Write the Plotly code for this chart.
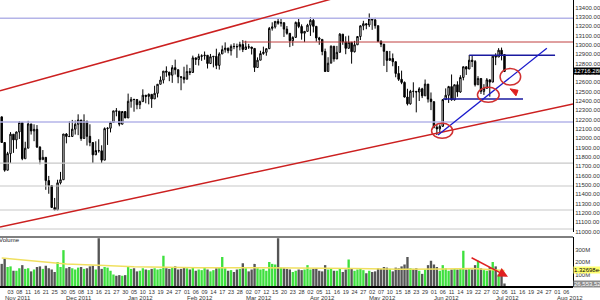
import plotly.graph_objects as go
import pandas as pd

# ---------------- data ----------------
holidays = ["2011-11-24", "2011-12-26", "2012-01-02", "2012-01-16", "2012-02-20",
            "2012-04-06", "2012-05-28", "2012-07-04"]
first_day = "2011-10-31"
last_axis_day = "2012-08-10"
month_labels = ["Nov 2011", "Dec 2011", "Jan 2012", "Feb 2012", "Mar 2012", "Apr 2012",
                "May 2012", "Jun 2012", "Jul 2012", "Aug 2012"]

opens = [12230,11955,11658,11836,12044,11983,12068,12170,11781,11894,
         12154,12079,12096,11906,11771,11796,11547,11494,11258,11232,
         11523,11556,12046,12020,12019,12098,12150,12196,11998,12184,
         12021,11955,11823,11869,11866,11766,12104,12108,12170,12294,
         12291,12151,12287,12218,12397,12418,12416,12360,12393,12462,
         12449,12471,12422,12482,12579,12624,12720,12709,12676,12757,
         12735,12660,12654,12633,12716,12705,12862,12845,12878,12884,
         12890,12801,12874,12878,12781,12904,12950,12966,12939,12985,
         12983,12981,13005,12952,12980,12978,12963,12759,12837,12908,
         12922,12960,13178,13194,13253,13233,13239,13170,13125,13046,
         13081,13242,13198,13126,13146,13212,13264,13200,13075,13060,
         12930,12716,12805,12987,12850,12921,13116,13033,12964,13029,
         12927,13002,13091,13205,13228,13214,13279,13269,13207,13038,
         13009,12932,12835,12855,12821,12695,12632,12599,12442,12369,
         12504,12503,12496,12530,12455,12581,12420,12393,12119,12101,
         12128,12415,12461,12554,12411,12574,12496,12652,12767,12742,
         12837,12824,12574,12641,12503,12535,12627,12602,12880,12871,
         12944,12897]
highs = [12230,11955,11855,12066,12044,12072,12184,12170,11963,12187,
         12154,12150,12142,11915,11874,11796,11597,11494,11361,11556,
         11640,12046,12056,12183,12197,12191,12257,12196,12257,12184,
         12150,11955,11968,11990,11925,12117,12118,12179,12294,12324,
         12291,12289,12287,12479,12443,12418,12418,12405,12525,12462,
         12481,12471,12563,12582,12663,12721,12771,12709,12784,12843,
         12735,12660,12767,12789,12753,12886,12862,12906,12900,12930,
         12890,12904,12879,12960,12922,12994,13028,12971,13006,13019,
         13014,13035,13053,13045,13012,12979,12963,12867,12938,12982,
         12964,13193,13243,13253,13289,13280,13239,13203,13125,13093,
         13251,13289,13221,13146,13227,13297,13284,13200,13087,13060,
         12961,12869,12995,12987,12990,13128,13116,13093,13100,13029,
         13044,13095,13211,13259,13228,13338,13279,13291,13207,13052,
         13009,12932,12936,12909,12821,12774,12725,12609,12531,12519,
         12600,12503,12548,12541,12630,12581,12491,12393,12156,12148,
         12418,12535,12562,12684,12575,12611,12676,12768,12767,12893,
         12883,12838,12666,12641,12580,12646,12627,12880,12911,12966,
         12972,12897]
lows = [11953,11642,11658,11735,11844,11887,11993,11765,11781,11894,
        12040,11969,11896,11722,11771,11448,11406,11257,11231,11232,
        11506,11556,11946,12013,12019,12040,12034,11973,11998,11923,
        11915,11736,11823,11846,11735,11766,11929,12063,12170,12236,
        12129,12151,12217,12218,12328,12285,12311,12313,12393,12375,
        12364,12326,12422,12438,12578,12588,12659,12612,12594,12683,
        12590,12515,12589,12633,12677,12705,12786,12780,12830,12842,
        12748,12801,12760,12741,12736,12904,12918,12911,12887,12955,
        12862,12942,12924,12952,12957,12898,12711,12759,12837,12895,
        12885,12960,13154,13176,13217,13197,13086,13110,12977,12991,
        13081,13180,13057,13031,13146,13097,13134,13036,13002,12890,
        12710,12716,12805,12821,12850,12921,13002,12901,12964,12800,
        12920,13002,13053,13158,13169,13192,13162,13175,13030,12977,
        12776,12710,12835,12772,12654,12615,12580,12437,12352,12361,
        12436,12278,12400,12431,12455,12383,12302,12107,12035,12061,
        12128,12415,12379,12404,12405,12445,12488,12621,12679,12742,
        12763,12555,12574,12475,12465,12535,12446,12602,12784,12871,
        12835,12710]
closes = [11955,11658,11836,12044,11983,12068,12170,11781,11894,12154,
          12079,12096,11906,11771,11796,11547,11494,11258,11232,11523,
          11556,12046,12020,12019,12098,12150,12196,11998,12184,12021,
          11955,11823,11869,11866,11766,12104,12108,12170,12294,12291,
          12151,12287,12218,12397,12418,12416,12360,12393,12462,12449,
          12471,12422,12482,12579,12624,12720,12709,12676,12757,12735,
          12660,12654,12633,12716,12705,12862,12845,12878,12884,12890,
          12801,12874,12878,12781,12904,12950,12966,12939,12985,12983,
          12981,13005,12952,12980,12978,12963,12759,12837,12908,12922,
          12960,13178,13194,13253,13233,13239,13170,13125,13046,13081,
          13242,13198,13126,13146,13212,13264,13200,13075,13060,12930,
          12716,12805,12987,12850,12921,13116,13033,12964,13029,12927,
          13002,13091,13205,13228,13214,13279,13269,13207,13038,13009,
          12932,12835,12855,12821,12695,12632,12599,12442,12369,12504,
          12503,12496,12530,12455,12581,12420,12393,12119,12101,12128,
          12415,12461,12554,12411,12574,12496,12652,12767,12742,12837,
          12824,12574,12641,12503,12535,12627,12602,12880,12871,12944,
          12897,12716.28]
volumes_m = [185,225,160,165,130,130,150,175,145,150,
             125,140,160,165,145,170,150,140,120,200,
             160,295,150,160,150,140,155,160,145,150,
             165,170,140,390,145,160,155,130,100,90,
             95,90,95,160,145,150,125,130,150,140,
             135,145,150,140,145,250,150,145,160,165,
             140,145,155,150,140,155,130,140,135,155,
             140,125,135,150,160,240,150,130,135,120,
             140,145,190,150,125,140,185,150,140,145,
             130,200,185,180,390,155,150,145,140,120,
             130,140,135,140,175,140,145,150,130,125,
             175,140,150,130,130,150,120,140,220,150,
             130,140,145,135,110,130,120,125,150,145,
             160,155,145,125,155,150,165,180,240,150,
             145,150,130,105,140,175,210,180,160,130,
             175,150,130,140,145,140,150,290,140,150,
             140,175,210,150,135,130,160,200,165,100,
             120,28]
ma_idx = [0, 10, 22, 35, 45, 67, 90, 100, 120, 136, 150, 160, 171]
ma_vals = [232, 210, 185, 172, 163, 155, 155, 152, 148, 142, 145, 148, 133]

last_price = 12716.28
last_ma = "1.32698e+08"
last_vol = "26,553,528"

# drawn study objects (x = trading-day index, y = price)
upper_channel = [(-0.58, 12510), (130, 13648)]
lower_channel = [(-0.58, 11050), (194.3, 12367)]
red_hline = (82, 13032)
lilac_hlines = [13286, 12175]
grey_hlines = [11735, 11489, 11232]
blue_trend = [(148.4, 12035), (185.4, 12965)]
blue_top = (159.0, 188.2, 12890)
blue_bottom = (150.1, 177.3, 12421)
circles = [(149.8, 12080, 3.6, 80), (165.5, 12466, 3.7, 80), (173.0, 12660, 3.5, 89)]
vol_arrow = [(159.3, 240), (172.2, 82)]

# ---------------- build ----------------
dates = pd.bdate_range(first_day, last_axis_day, freq="C", holidays=holidays)
n = len(closes)
idx = list(range(n))
X0, X1 = -0.58, 194.3

fig = go.Figure()
fig.add_trace(go.Candlestick(
    x=idx, open=opens, high=highs, low=lows, close=closes,
    increasing=dict(line=dict(color="black", width=1), fillcolor="white"),
    decreasing=dict(line=dict(color="black", width=1), fillcolor="black"),
    whiskerwidth=0, xaxis="x", yaxis="y", showlegend=False, hoverinfo="skip"))

vcolors = ["#3ee03e" if c >= o else "#555555" for o, c in zip(opens, closes)]
fig.add_trace(go.Bar(x=idx, y=volumes_m, marker=dict(color=vcolors, line=dict(width=0)),
                     xaxis="x2", yaxis="y2", showlegend=False, hoverinfo="skip"))
fig.add_trace(go.Scatter(x=ma_idx, y=ma_vals, mode="lines",
                         line=dict(color="#f0e060", width=1.5),
                         xaxis="x2", yaxis="y2", showlegend=False, hoverinfo="skip"))

H = 287.0
shapes = []
def seg(x0, y0, x1, y1, color, w=1, xref="x", yref="y"):
    shapes.append(dict(type="line", x0=x0, y0=y0, x1=x1, y1=y1, xref=xref, yref=yref,
                       line=dict(color=color, width=w)))

for y in grey_hlines:
    seg(0, y, 1, y, "#c8c8c8", 1.2, xref="x domain")
for y in lilac_hlines:
    seg(0, y, 1, y, "#b4b4e8", 1.5, xref="x domain")
seg(red_hline[0], red_hline[1], X1, red_hline[1], "#c04040", 1)
seg(*upper_channel[0], *upper_channel[1], "#cc2020", 1.5)
seg(*lower_channel[0], *lower_channel[1], "#cc2020", 1.5)
seg(blue_top[0], blue_top[2], blue_top[1], blue_top[2], "#1a1aa0", 1.5)
seg(blue_bottom[0], blue_bottom[2], blue_bottom[1], blue_bottom[2], "#1a1aa0", 1.5)
seg(*blue_trend[0], *blue_trend[1], "#1a1acc", 1.3)
for cx, cy, rx, ry in circles:
    shapes.append(dict(type="circle", xref="x", yref="y", x0=cx - rx, x1=cx + rx,
                       y0=cy - ry, y1=cy + ry, line=dict(color="#d03030", width=1.5)))
# small red marker triangle
shapes.append(dict(type="path", xref="x", yref="y",
                   path="M 172.9,12530 L 175.6,12515 L 174.9,12455 Z",
                   fillcolor="#e02020", line=dict(color="#e02020", width=1)))
# panel separators
seg(0, 1 - 229 / H, 1, 1 - 229 / H, "#c8c8c8", 1, xref="paper", yref="paper")
seg(0, 1 - 237 / H, 1, 1 - 237 / H, "#000000", 1, xref="paper", yref="paper")
seg(0, 0, 1, 0, "#000000", 2, xref="paper", yref="paper")

tick_idx = list(range(0, 193, 3))
tick_txt = [dates[i].strftime("%d") for i in tick_idx]

annotations = []
# month labels at first trading day of each labelled month
for i, d in enumerate(dates):
    lab = d.strftime("%b %Y")
    if lab in month_labels and (i == 0 or dates[i - 1].month != d.month):
        annotations.append(dict(x=i, y=-10.5 / H, xref="x2", yref="paper", xanchor="left",
                                yanchor="middle", text=lab, showarrow=False,
                                borderpad=0, xshift=-1,
                                font=dict(size=6, color="#333333", family="Liberation Sans")))
annotations.append(dict(x=0, y=1 - 240 / H, xref="paper", yref="paper", xanchor="left",
                        yanchor="middle", text="Volume", showarrow=False, xshift=-3,
                        font=dict(size=6, color="#222222", family="Liberation Sans")))
annotations.append(dict(x=1, y=last_price, xref="paper", yref="y", xanchor="left",
                        yanchor="middle", text="%.4f" % last_price, showarrow=False,
                        bgcolor="black", borderpad=0,
                        font=dict(size=6, color="white", family="Liberation Sans")))
annotations.append(dict(x=1, y=132.698, xref="paper", yref="y2", xanchor="left",
                        yanchor="middle", text=last_ma, showarrow=False,
                        bgcolor="#ffff70", borderpad=0,
                        font=dict(size=6, color="black", family="Liberation Sans")))
annotations.append(dict(x=1, y=volumes_m[-1], xref="paper", yref="y2", xanchor="left",
                        yanchor="middle", text=last_vol, showarrow=False,
                        bgcolor="#8c8c8c", borderpad=0,
                        font=dict(size=6, color="white", family="Liberation Sans")))
annotations.append(dict(x=vol_arrow[1][0], y=vol_arrow[1][1], ax=vol_arrow[0][0],
                        ay=vol_arrow[0][1], xref="x2", yref="y2", axref="x2", ayref="y2",
                        showarrow=True, arrowhead=2, arrowsize=1.3, arrowwidth=1.5,
                        arrowcolor="#e02020", text=""))

tickfont = dict(size=6, color="#333333", family="Liberation Sans")
fig.update_layout(
    width=600, height=300,
    margin=dict(l=0, r=27, t=0, b=13),
    paper_bgcolor="white", plot_bgcolor="white",
    bargap=0.2,
    shapes=shapes, annotations=annotations,
    xaxis=dict(domain=[0, 1], anchor="y", range=[X0, X1], showticklabels=False,
               showgrid=False, zeroline=False, rangeslider=dict(visible=False),
               matches="x2"),
    yaxis=dict(domain=[1 - 232 / H, 1], anchor="x", side="right",
               range=[10996, 13482], dtick=100, tick0=11000, tickformat=".2f",
               showgrid=False, zeroline=False, showline=True, linecolor="black",
               linewidth=1, ticks="", tickfont=tickfont),
    xaxis2=dict(domain=[0, 1], anchor="y2", range=[X0, X1], tickmode="array",
                tickvals=tick_idx, ticktext=tick_txt, showgrid=False, zeroline=False,
                ticks="", tickangle=0, tickfont=dict(size=5.5, color="#333333",
                                                     family="Liberation Sans"),
                ticklabelstandoff=0),
    yaxis2=dict(domain=[0, 50 / H], anchor="x2", side="right", range=[0, 400],
                tickmode="array", tickvals=[100, 200, 300],
                ticktext=["100M", "200M", "300M"], showgrid=False, zeroline=False,
                showline=True, linecolor="black", linewidth=1, ticks="",
                tickfont=tickfont),
)

fig.write_html("out.html")
